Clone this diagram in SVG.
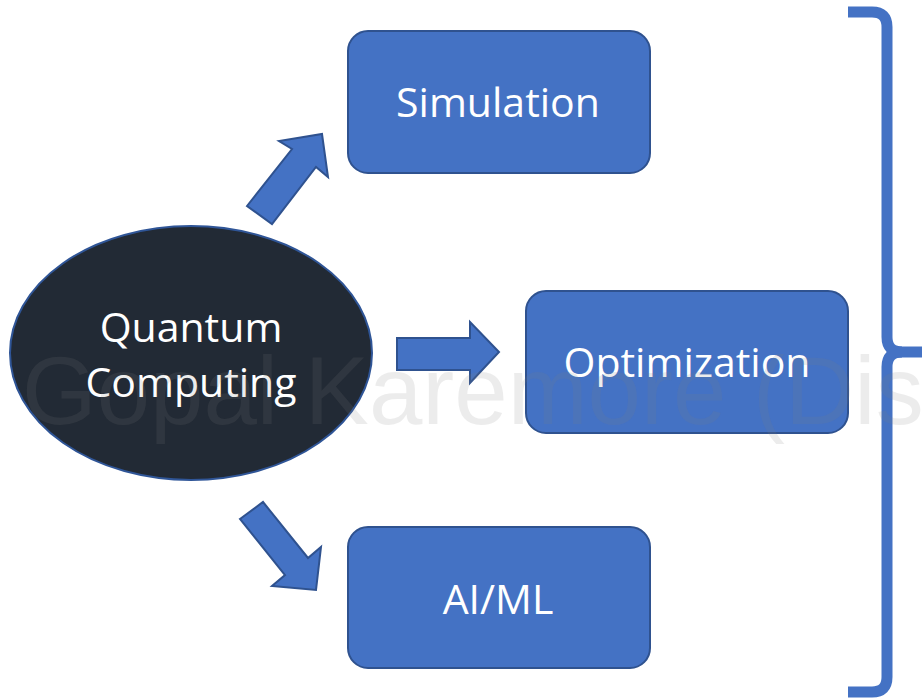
<svg xmlns="http://www.w3.org/2000/svg" width="922" height="699" viewBox="0 0 922 699">
<style>
.box{fill:#4472c4;stroke:#2f528f;stroke-width:2}
.arrow{fill:#4472c4;stroke:#2f528f;stroke-width:2;stroke-linejoin:miter}
.lbl{font-family:"Open Sans","Noto Sans",sans-serif;fill:#ffffff;text-anchor:middle}
.wm{font-family:"Liberation Sans",Arial,sans-serif;font-size:96px;fill:#808080;fill-opacity:0.15}
</style>
<rect width="922" height="699" fill="#ffffff"/>
<g id="connectors">
<polygon class="arrow" points="247,206 292,149 279,141 322,134 328,177 316,167 272,224"/>
<polygon class="arrow" points="397,338 470,338 470,322 499,352 470,383 470,370 397,370"/>
<polygon class="arrow" points="240,519 263,502 308,558 321,547 316,590 272,586 285,575"/>
</g>
<g id="quantum">
<ellipse cx="191" cy="353" rx="181" ry="127" fill="#222a35" stroke="#2f5597" stroke-width="2"/>
<text class="lbl" x="191" y="342" font-size="41">Quantum</text>
<text class="lbl" x="191" y="397" font-size="41">Computing</text>
</g>
<g id="simulation">
<rect class="box" x="348" y="31" width="302" height="142" rx="20"/>
<text class="lbl" x="498" y="117" font-size="41">Simulation</text>
</g>
<g id="optimization">
<rect class="box" x="526" y="291" width="322" height="142" rx="20"/>
<text class="lbl" x="687" y="377" font-size="41">Optimization</text>
</g>
<g id="aiml">
<rect class="box" x="348" y="527" width="302" height="141" rx="20"/>
<text class="lbl" x="498" y="614" font-size="41">AI/ML</text>
</g>
<g id="brace">
<path d="M848,12 H872 Q887,12 887,27 V337 Q887,352 902,352 Q887,352 887,367 V677 Q887,692 872,692 H848" fill="none" stroke="#4472c4" stroke-width="11"/>
<path d="M895,352 H925" fill="none" stroke="#4472c4" stroke-width="11"/>
</g>
<text class="wm" x="22" y="424">Gopal Karemore (Dist</text>
</svg>
